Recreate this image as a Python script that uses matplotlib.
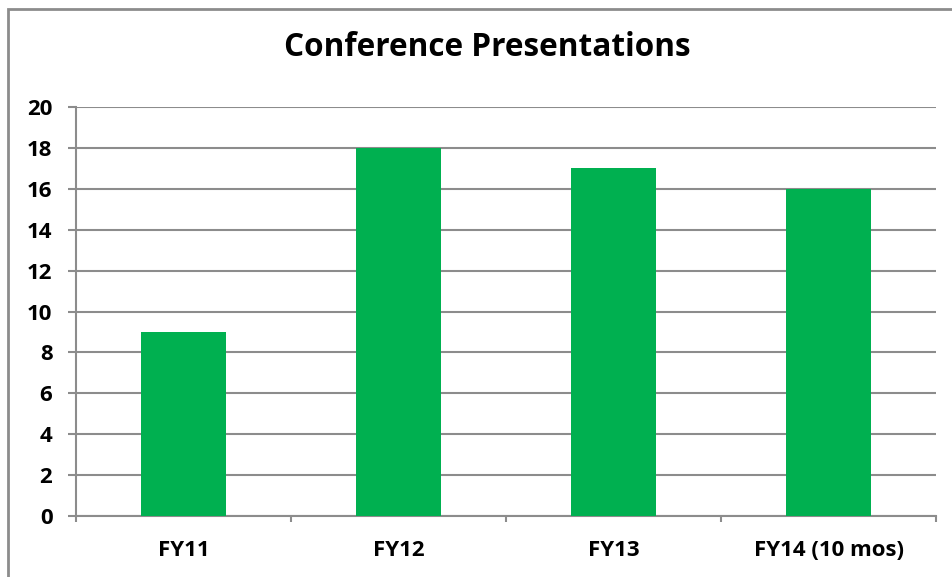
import matplotlib
matplotlib.use("Agg")
import matplotlib.pyplot as plt
from matplotlib.patches import Rectangle

categories = ["FY11", "FY12", "FY13", "FY14 (10 mos)"]
values = [9, 18, 17, 16]
yticks = [0, 2, 4, 6, 8, 10, 12, 14, 16, 18, 20]

plt.rcParams["font.family"] = ["Open Sans", "DejaVu Sans"]
grey = "#8c8c8c"

fig = plt.figure(figsize=(9.52, 5.77), dpi=100)
ax = fig.add_axes([76/952, 61/577, 860/952, 409/577])

x = list(range(len(categories)))
ax.bar(x, values, width=0.395, color="#00B050", zorder=3)
ax.set_xlim(-0.5, len(categories) - 0.5)
ax.set_ylim(0, 20)
ax.set_yticks(yticks)
ax.set_yticklabels([str(v) for v in yticks], fontsize=16, fontweight="bold")
ax.set_xticks(x)
ax.set_xticklabels(categories, fontsize=16, fontweight="bold")
ax.set_xticks([i - 0.5 for i in range(len(categories) + 1)], minor=True)
ax.tick_params(axis="x", which="major", length=0, pad=17)
ax.tick_params(axis="x", which="minor", length=4.5, color=grey, width=1.5)
ax.tick_params(axis="y", length=6, color=grey, width=1.5, pad=11)
ax.yaxis.grid(True, color=grey, linewidth=1.5, zorder=0)
for s in ["top", "right"]:
    ax.spines[s].set_visible(False)
for s in ["left", "bottom"]:
    ax.spines[s].set_color(grey)
    ax.spines[s].set_linewidth(1.5)

fig.text(487/952, 1 - 47/577, "Conference Presentations", ha="center", va="center",
         fontsize=22.7, fontweight="bold")

fig.patches.append(Rectangle((8/952, -0.1), 1.1, 1.1 - 9/577, transform=fig.transFigure,
                             fill=False, edgecolor=grey, linewidth=2, figure=fig))

fig.savefig("out.png", dpi=100)
